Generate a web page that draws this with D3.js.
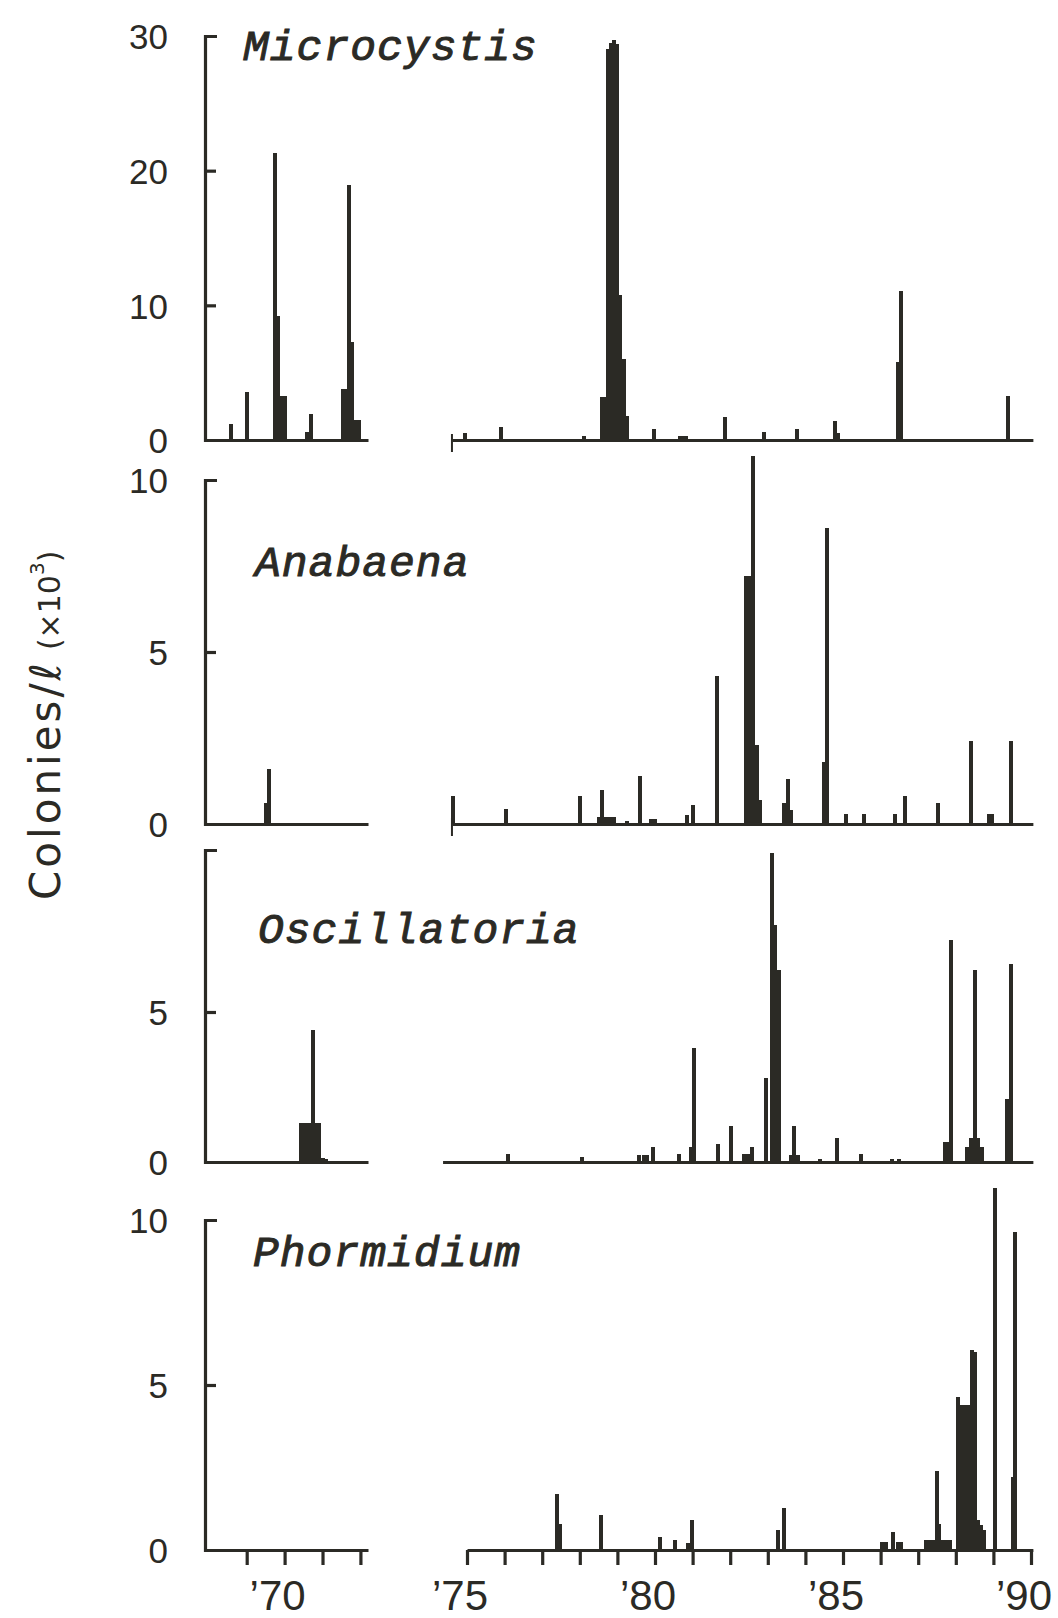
<!DOCTYPE html>
<html>
<head>
<meta charset="utf-8">
<script src="https://cdn.jsdelivr.net/npm/d3@7/dist/d3.min.js"></script>
<style>
  body { margin: 0; background: #fff; }
  .axis path, .axis line { stroke: #2b2a25; stroke-width: 3.2; fill: none; }
  .axis text { display: none; }
  .ylab { font-family: "Liberation Sans", Arial, sans-serif; font-size: 35px; fill: #2b2a25; }
  .xlab { font-family: "Liberation Sans", Arial, sans-serif; font-size: 42px; fill: #2b2a25; }
  .name { font-family: "Liberation Mono", "DejaVu Sans Mono", monospace; font-style: italic; font-size: 43px;
          fill: #2b2a25; stroke: #2b2a25; stroke-width: 1; }
  .title { font-family: "DejaVu Sans", sans-serif; fill: #2b2a25; }
</style>
</head>
<body>
<div class="chart"></div>
<script>
// taxa shown top to bottom
const species = ["Microcystis", "Anabaena", "Oscillatoria", "Phormidium"];

// [year, colonies/l x10^3] (monthly samples)
const microcystis = [
  [68.58, 1.2], [69.0, 3.6], [69.75, 21.3], [69.83, 9.2], [69.92, 3.3], [70.0, 3.3],
  [70.58, 0.6], [70.7, 1.9],
  [71.54, 3.8], [71.63, 3.8], [71.71, 18.9], [71.79, 7.3], [71.88, 1.5], [71.96, 1.5],
  [74.95, 0.5], [75.9, 1.0], [78.1, 0.3],
  [78.58, 3.2], [78.67, 3.2], [78.75, 29.0], [78.83, 29.5], [78.92, 29.7], [79.0, 29.4],
  [79.08, 10.8], [79.17, 6.0], [79.25, 1.8],
  [79.97, 0.8], [80.67, 0.3], [80.75, 0.3], [80.83, 0.3], [81.86, 1.7], [82.9, 0.6],
  [83.77, 0.8], [84.79, 1.4], [84.87, 0.5], [86.45, 5.8], [86.54, 11.1], [89.4, 3.3]
];

const anabaena = [
  [69.5, 0.6], [69.58, 1.6],
  [74.63, 0.8], [76.04, 0.45], [78.01, 0.8], [78.5, 0.2], [78.6, 1.0], [78.7, 0.2],
  [78.8, 0.2], [78.9, 0.2], [79.25, 0.1], [79.59, 1.4], [79.9, 0.15], [80.0, 0.15],
  [80.85, 0.25], [81.0, 0.55], [81.66, 4.3],
  [82.42, 7.2], [82.5, 7.2], [82.6, 10.7], [82.7, 2.3], [82.8, 0.7],
  [83.44, 0.6], [83.53, 1.3], [83.63, 0.4], [84.5, 1.8], [84.58, 8.6],
  [85.09, 0.3], [85.57, 0.3], [86.37, 0.3], [86.66, 0.8], [87.52, 0.6],
  [88.41, 2.4], [88.88, 0.3], [88.97, 0.3], [89.46, 2.4]
];

const oscillatoria = [
  [70.42, 1.3], [70.5, 1.3], [70.58, 1.3], [70.67, 1.3], [70.76, 4.4], [70.84, 1.3],
  [70.92, 1.3], [71.0, 0.15], [71.1, 0.1],
  [76.09, 0.28], [78.06, 0.17], [79.58, 0.22], [79.7, 0.22], [79.8, 0.22], [79.95, 0.5],
  [80.64, 0.28], [80.97, 0.5], [81.05, 3.8], [81.68, 0.6], [82.03, 1.2],
  [82.37, 0.28], [82.47, 0.28], [82.59, 0.5], [82.96, 2.8], [83.12, 10.3],
  [83.2, 7.9], [83.3, 6.4], [83.62, 0.22], [83.71, 1.2], [83.8, 0.22],
  [84.4, 0.1], [84.83, 0.8], [85.47, 0.28], [86.3, 0.1], [86.5, 0.1],
  [87.72, 0.67], [87.79, 0.67], [87.86, 7.4],
  [88.3, 0.5], [88.4, 0.8], [88.52, 6.4], [88.6, 0.8], [88.7, 0.5],
  [89.35, 2.1], [89.46, 6.6]
];

const phormidium = [
  [77.4, 1.7], [77.48, 0.8], [78.57, 1.06], [80.14, 0.4], [80.54, 0.3], [80.89, 0.2],
  [80.99, 0.9], [83.28, 0.6], [83.42, 1.26],
  [86.05, 0.25], [86.15, 0.25], [86.32, 0.55], [86.45, 0.25], [86.55, 0.25],
  [87.2, 0.3], [87.3, 0.3], [87.4, 0.3], [87.49, 2.4], [87.56, 0.8], [87.65, 0.3], [87.75, 0.3], [87.85, 0.3],
  [88.07, 4.65], [88.17, 4.4], [88.25, 4.4], [88.33, 4.4], [88.42, 6.06], [88.5, 6.0],
  [88.58, 0.9], [88.67, 0.75], [88.75, 0.6],
  [89.03, 10.96], [89.51, 2.2], [89.57, 9.65]
];

const seriesList = [microcystis, anabaena, oscillatoria, phormidium];

// y tick labels per panel and top of each y axis
const yLabels = [[0, 10, 20, 30], [0, 5, 10], [0, 5], [0, 5, 10]];
const yInnerTicks = [[10, 20], [5], [5], [5]];
const yTops = [30, 10, 10.4, 10];
// start of the right-hand time segment in each panel
const rightStart = [74.6, 74.6, 74.35, 75.0];

// year ticks and labels of the bottom axis
const leftYears = [69, 70, 71, 72];
const rightYears = d3.range(75, 91);
const yearLabels = [70, 75, 80, 85, 90];

// ---- layout ----
const W = 1058, H = 1618;
const axisX = 205;
const panelY = [[440, 36], [824, 480], [1162, 850], [1550, 1220]];
const namePos = [[243, 60], [255, 576], [258, 943], [253, 1266]];

const svg = d3.select(".chart").append("svg")
  .attr("width", W)
  .attr("height", H);

const xLeft = d3.scaleLinear().domain([67.9, 72.2]).range([axisX, 368]);
const xRight = d3.scaleLinear().domain([75, 90]).range([467, 1031]);
const xOf = t => (t < 73 ? xLeft(t) : xRight(t));
const barW = 4;

seriesList.forEach((data, i) => {
  const y = d3.scaleLinear()
    .domain([0, yTops[i]])
    .range(panelY[i]);

  const g = svg.append("g").attr("class", "panel");

  // bars
  g.selectAll("rect")
    .data(data)
    .enter()
    .append("rect")
    .attr("x", d => Math.round(xOf(d[0]) - barW / 2))
    .attr("y", d => y(d[1]))
    .attr("width", barW)
    .attr("height", d => y(0) - y(d[1]))
    .attr("fill", "#2b2a25")
    .attr("shape-rendering", "crispEdges");

  // y axis, outer tick at top gives the "[" shape
  const yAxis = d3.axisRight(y)
    .tickValues(yInnerTicks[i])
    .tickSize(11)
    .tickSizeOuter(12);
  g.append("g")
    .attr("class", "axis y-axis")
    .attr("transform", `translate(${axisX},0)`)
    .call(yAxis);

  g.selectAll(".ylab")
    .data(yLabels[i])
    .enter()
    .append("text")
    .attr("class", "ylab")
    .attr("x", 168)
    .attr("y", d => y(d) + 4)
    .attr("text-anchor", "end")
    .attr("dominant-baseline", "middle")
    .text(d => d);

  const last = i === seriesList.length - 1;

  // left time segment
  const axLeft = d3.axisBottom(xLeft)
    .tickValues(last ? leftYears : [])
    .tickSize(15)
    .tickSizeOuter(0);
  g.append("g")
    .attr("class", "axis x-axis")
    .attr("transform", `translate(0,${y(0)})`)
    .call(axLeft);

  // right time segment
  const xr = xRight.copy().domain([rightStart[i], 90.05])
    .range([xRight(rightStart[i]), xRight(90.05)]);
  const axRight = d3.axisBottom(xr)
    .tickValues(last ? rightYears : [])
    .tickSize(15)
    .tickSizeOuter(0);
  g.append("g")
    .attr("class", "axis x-axis")
    .attr("transform", `translate(0,${y(0)})`)
    .call(axRight);

  if (i < 2) {
    // small start mark of the right segment
    g.append("line")
      .attr("x1", xr.range()[0]).attr("x2", xr.range()[0])
      .attr("y1", y(0) - 6).attr("y2", y(0) + 12)
      .attr("stroke", "#2b2a25").attr("stroke-width", 2);
  }

  g.append("text")
    .attr("class", "name")
    .attr("x", namePos[i][0])
    .attr("y", namePos[i][1])
    .attr("letter-spacing", 1)
    .text(species[i]);
});

// year labels under the bottom panel
svg.selectAll(".xlab")
  .data(yearLabels)
  .enter()
  .append("text")
  .attr("class", "xlab")
  .attr("x", d => xOf(d) - 7)
  .attr("y", 1610)
  .attr("text-anchor", "middle")
  .text(d => "\u2019" + d);

// y title
const title = svg.append("text")
  .attr("class", "title")
  .attr("transform", "translate(60,900) rotate(-90)");
title.append("tspan").attr("font-size", 42).attr("letter-spacing", 3).text("Colonies/\u2113");
title.append("tspan").attr("font-size", 30).attr("dx", 10).text("(\u00d710");
title.append("tspan").attr("font-size", 20).attr("dy", -16).text("3");
title.append("tspan").attr("font-size", 30).attr("dy", 16).text(")");
</script>
</body>
</html>
